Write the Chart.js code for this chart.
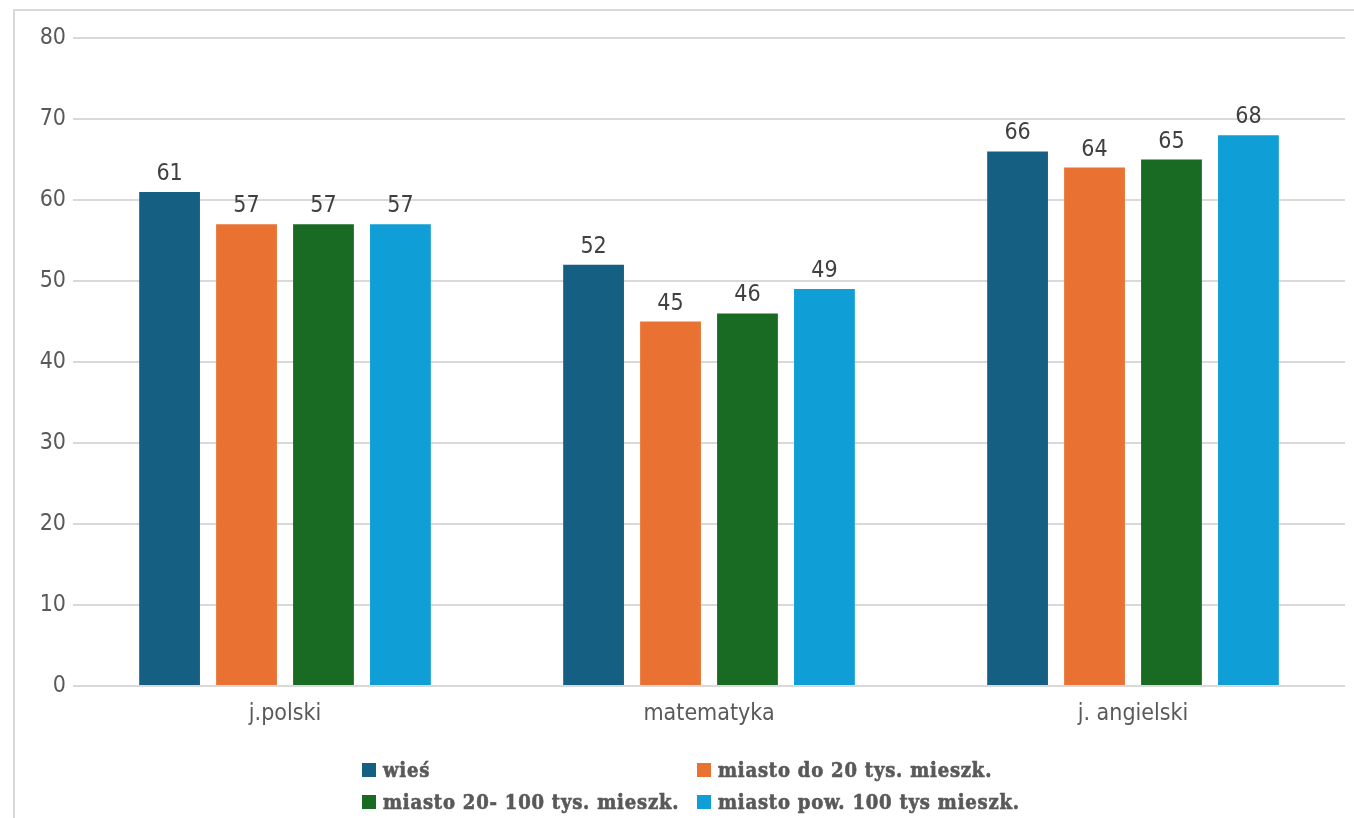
<!DOCTYPE html>
<html>
<head>
<meta charset="utf-8">
<script src="https://cdn.jsdelivr.net/npm/chart.js@4.4.1/dist/chart.umd.min.js"></script>
<style>
  html, body { margin: 0; padding: 0; background: #fff; }
  #wrap { position: relative; width: 1354px; height: 818px; overflow: hidden; }
  #frame { position: absolute; left: 13px; top: 9px; width: 1400px; height: 900px; border: 2px solid #d9d9d9; box-sizing: border-box; }
  #chart { position: absolute; left: 0; top: 0; }
  #legend { position: absolute; left: 362px; top: 757px; display: grid; grid-template-columns: 335px auto; row-gap: 7px;
            font-family: "DejaVu Serif Condensed", "DejaVu Serif", serif; font-weight: bold; font-size: 20px;
            letter-spacing: 0.8px; color: #595959; -webkit-text-stroke: 0.6px #595959; }
  #legend div { display: flex; align-items: center; white-space: nowrap; height: 25px; }
  #legend span.box { display: inline-block; width: 14px; height: 14px; margin-right: 7px; }
</style>
</head>
<body>
<div id="wrap">
  <div id="frame"></div>
  <canvas id="chart" width="1354" height="818"></canvas>
  <div id="legend"></div>
</div>
<script>
const categories = ['j.polski', 'matematyka', 'j. angielski'];
const seriesNames = ['wieś', 'miasto do 20 tys. mieszk.', 'miasto 20- 100 tys. mieszk.', 'miasto pow. 100 tys mieszk.'];
const wies = [61, 52, 66];
const miastoDo20 = [57, 45, 64];
const miasto20do100 = [57, 46, 65];
const miastoPow100 = [57, 49, 68];
const colors = ['#156082', '#E97132', '#196B24', '#0F9ED5'];
const yTicks = [0, 10, 20, 30, 40, 50, 60, 70, 80];

const tickFont = '"DejaVu Sans Condensed", "DejaVu Sans", sans-serif';

// value above each bar, placed from the bar element the scale computed
const valueLabels = {
  id: 'valueLabels',
  afterDatasetsDraw(chart) {
    const ctx = chart.ctx;
    ctx.save();
    ctx.font = '23px ' + tickFont;
    ctx.fillStyle = '#404040';
    ctx.textAlign = 'center';
    ctx.textBaseline = 'alphabetic';
    chart.data.datasets.forEach((ds, i) => {
      chart.getDatasetMeta(i).data.forEach((bar, j) => {
        ctx.fillText(ds.data[j], bar.x, bar.y - 12);
      });
    });
    ctx.restore();
  }
};

const allSeries = [wies, miastoDo20, miasto20do100, miastoPow100];

new Chart(document.getElementById('chart'), {
  type: 'bar',
  data: {
    labels: categories,
    datasets: allSeries.map((d, i) => ({
      label: seriesNames[i],
      data: d,
      backgroundColor: colors[i],
      barPercentage: 0.79,
      categoryPercentage: 0.726
    }))
  },
  options: {
    responsive: false,
    animation: false,
    layout: { padding: { left: 0, right: 9, top: 38, bottom: 92 } },
    plugins: {
      legend: { display: false },
      tooltip: { enabled: false }
    },
    scales: {
      x: {
        grid: { display: false },
        border: { display: false },
        ticks: { color: '#595959', font: { family: tickFont, size: 23 }, padding: 6 },
        afterFit: s => { s.height = 40; }
      },
      y: {
        min: 0,
        max: 80,
        afterBuildTicks: s => { s.ticks = yTicks.map(v => ({ value: v })); },
        grid: { color: '#d9d9d9', lineWidth: 2, drawTicks: false },
        border: { display: false },
        ticks: { color: '#595959', font: { family: tickFont, size: 23 }, padding: 7 },
        afterFit: s => { s.width = 73; }
      }
    }
  },
  plugins: [valueLabels]
});

const legend = document.getElementById('legend');
seriesNames.forEach((name, i) => {
  const item = document.createElement('div');
  const box = document.createElement('span');
  box.className = 'box';
  box.style.background = colors[i];
  item.appendChild(box);
  item.appendChild(document.createTextNode(name));
  legend.appendChild(item);
});
</script>
</body>
</html>
